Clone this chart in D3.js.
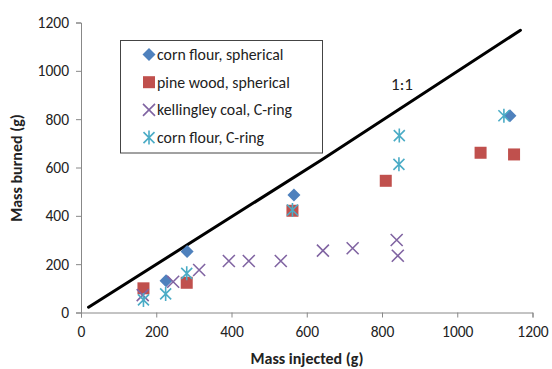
<!DOCTYPE html>
<html lang="en">
<head>
    <meta charset="UTF-8">
    <title>Mass burned vs injected</title>
    <script src="https://d3js.org/d3.v7.min.js"></script>
    <style>
        body{
            margin: 0;
            background: #fff;
        }
        svg text{
            font-family: Carlito, Lato, sans-serif;
            fill: #222;
        }
        .axis path, .axis line{
            stroke: #888;
        }
        .axis text{
            font-size: 15.5px;
        }
        .title{
            font-size: 16px;
            font-weight: bold;
        }
        .legend text{
            font-size: 15.8px;
        }
    </style>
</head>
<body>
<svg></svg>
<script>
    // values
    const cornSphX = [226, 282, 566, 1140];
    const cornSphY = [131, 252, 486, 814];
    const pineSphX = [166, 281, 562, 810, 1062, 1151];
    const pineSphY = [100, 123, 421, 545, 661, 654];
    const coalRingX = [164, 245, 314, 393, 446, 531, 643, 722, 839, 842];
    const coalRingY = [72, 127, 176, 213, 213, 213, 256, 266, 300, 235];
    const cornRingX = [166, 225, 281, 562, 846, 845, 1124];
    const cornRingY = [52, 77, 162, 424, 732, 613, 814];
    const oneToOneX = [20, 640, 1168];
    const oneToOneY = [22, 632, 1168];
    const xTicks = [0, 200, 400, 600, 800, 1000, 1200];
    const yTicks = [0, 200, 400, 600, 800, 1000, 1200];

    const seriesNames = ["corn flour, spherical", "pine wood, spherical", "kellingley coal, C-ring", "corn flour, C-ring"];
    const seriesColors = ["#4F81BD", "#C0504D", "#8064A2", "#4BACC6"];
    const seriesShapes = ["diamond", "square", "x", "star"];

    const width = 552;
    const height = 369;

    const svg = d3.select("svg")
        .attr("width", width)
        .attr("height", height);

    const x = d3.scaleLinear().domain([0, 1200]).range([81, 532.5]);
    const y = d3.scaleLinear().domain([0, 1200]).range([312.5, 22.5]);

    // axes
    svg.append("g")
        .attr("class", "axis")
        .attr("transform", `translate(0,${y(0)})`)
        .call(d3.axisBottom(x).tickValues(xTicks).tickSize(5).tickPadding(8).tickFormat(d3.format("d")));
    svg.append("g")
        .attr("class", "axis")
        .attr("transform", `translate(${x(0)},0)`)
        .call(d3.axisLeft(y).tickValues(yTicks).tickSize(5).tickPadding(7).tickFormat(d3.format("d")));
    svg.selectAll(".axis .domain").attr("stroke", "#888");

    svg.append("text").attr("class", "title")
        .attr("x", 307).attr("y", 364)
        .attr("text-anchor", "middle")
        .text("Mass injected (g)");
    svg.append("text").attr("class", "title")
        .attr("transform", "translate(22,168) rotate(-90)")
        .attr("text-anchor", "middle")
        .text("Mass burned (g)");

    // 1:1 line
    const line = d3.line().x(d => x(d[0])).y(d => y(d[1]));
    svg.append("path")
        .datum(d3.zip(oneToOneX, oneToOneY))
        .attr("d", line)
        .attr("fill", "none")
        .attr("stroke", "#000")
        .attr("stroke-width", 3)
        .attr("stroke-linecap", "round");
    svg.append("text")
        .attr("x", 402).attr("y", 90)
        .attr("text-anchor", "middle")
        .style("font-size", "17px")
        .text("1:1");

    // marker shapes
    function drawMarker(g, shape, color) {
        if (shape === "diamond") {
            g.append("path").attr("d", "M0,-6.5L6.5,0L0,6.5L-6.5,0Z").attr("fill", color);
        } else if (shape === "square") {
            g.append("rect").attr("x", -6).attr("y", -6).attr("width", 12).attr("height", 12).attr("fill", color);
        } else if (shape === "x") {
            g.append("path").attr("d", "M-6,-6L6,6M-6,6L6,-6").attr("stroke", color).attr("stroke-width", 1.6);
        } else {
            g.append("path").attr("d", "M-5.5,-5.5L5.5,5.5M-5.5,5.5L5.5,-5.5M0,-7L0,7").attr("stroke", color).attr("stroke-width", 1.6);
        }
    }

    const allSeries = [
        d3.zip(cornSphX, cornSphY),
        d3.zip(pineSphX, pineSphY),
        d3.zip(coalRingX, coalRingY),
        d3.zip(cornRingX, cornRingY)
    ];

    allSeries.forEach((pts, i) => {
        svg.append("g").selectAll("g")
            .data(pts)
            .enter()
            .append("g")
            .attr("transform", d => `translate(${x(d[0])},${y(d[1])})`)
            .each(function () { drawMarker(d3.select(this), seriesShapes[i], seriesColors[i]); });
    });

    // legend
    const legend = svg.append("g").attr("class", "legend");
    legend.append("rect")
        .attr("x", 120.5).attr("y", 40.5)
        .attr("width", 202).attr("height", 112.5)
        .attr("fill", "#fff").attr("stroke", "#444");
    seriesNames.forEach((name, i) => {
        const ly = 54.5 + i * 27.7;
        const g = legend.append("g").attr("transform", `translate(149,${ly})`);
        drawMarker(g, seriesShapes[i], seriesColors[i]);
        legend.append("text")
            .attr("x", 157).attr("y", ly + 5.5)
            .text(name);
    });
</script>
</body>
</html>
